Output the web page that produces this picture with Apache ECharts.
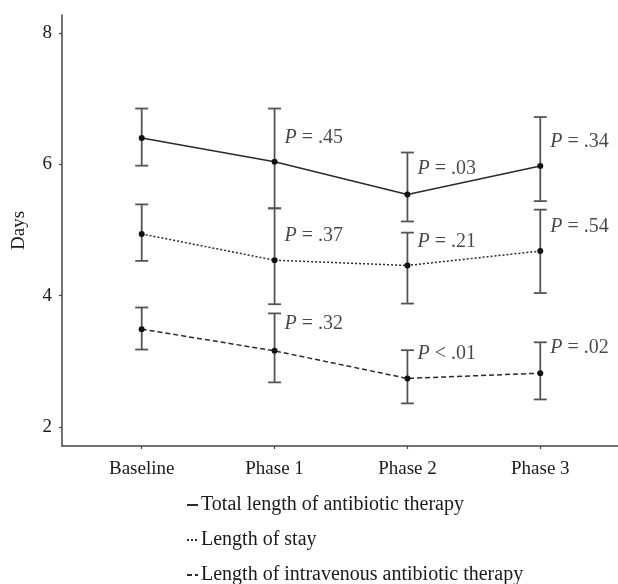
<!DOCTYPE html>
<html>
<head>
<meta charset="utf-8">
<script src="https://cdn.jsdelivr.net/npm/echarts@6/dist/echarts.min.js"></script>
<style>html,body{margin:0;padding:0;background:#fff}#c{width:618px;height:584px}</style>
</head>
<body>
<div id="c"></div>
<script>
// ---- data ----
const categories = ['Baseline', 'Phase 1', 'Phase 2', 'Phase 3'];
const yTicks = [2, 4, 6, 8];
const seriesNames = ['Total length of antibiotic therapy', 'Length of stay', 'Length of intravenous antibiotic therapy'];

const totalMean = [6.40, 6.04, 5.54, 5.975];
const totalLow  = [5.98, 5.33, 5.13, 5.44];
const totalHigh = [6.85, 6.85, 6.18, 6.72];

const stayMean = [4.94, 4.54, 4.46, 4.68];
const stayLow  = [4.53, 3.87, 3.88, 4.04];
const stayHigh = [5.39, 5.33, 4.96, 5.31];

const ivMean = [3.49, 3.16, 2.74, 2.82];
const ivLow  = [3.18, 2.68, 2.36, 2.42];
const ivHigh = [3.82, 3.73, 3.17, 3.29];

const pX    = [1, 1, 1, 2, 2, 2, 3, 3, 3];
const pY    = [6.41, 4.91, 3.58, 5.94, 4.82, 3.12, 6.34, 5.05, 3.20];
const pText = ['= .45', '= .37', '= .32', '= .03', '= .21', '< .01', '= .34', '= .54', '= .02'];

// ---- chart ----
const FONT = '"Liberation Serif", "Times New Roman", serif';
const TXT = '#1a1a1a';
const xIdx = categories.map((_, i) => i);

function errData(low, high) {
  return xIdx.map(i => [i, low[i], high[i]]);
}
function errSeries(low, high) {
  return {
    type: 'custom',
    z: 1,
    silent: true,
    data: errData(low, high),
    renderItem: function (params, api) {
      const x = api.value(0);
      const lo = api.coord([x, api.value(1)]);
      const hi = api.coord([x, api.value(2)]);
      const w = 6.5;
      const st = { stroke: '#555', lineWidth: 1.8 };
      return {
        type: 'group',
        children: [
          { type: 'line', shape: { x1: lo[0], y1: lo[1], x2: hi[0], y2: hi[1] }, style: st },
          { type: 'line', shape: { x1: lo[0] - w, y1: lo[1], x2: lo[0] + w, y2: lo[1] }, style: st },
          { type: 'line', shape: { x1: hi[0] - w, y1: hi[1], x2: hi[0] + w, y2: hi[1] }, style: st }
        ]
      };
    }
  };
}
function lineSeries(name, mean, dash) {
  return {
    name: name,
    type: 'line',
    z: 3,
    data: xIdx.map(i => [i, mean[i]]),
    symbol: 'circle',
    symbolSize: 6,
    itemStyle: { color: '#111' },
    lineStyle: { color: '#2a2a2a', width: 1.5, type: dash },
    silent: true
  };
}

const chart = echarts.init(document.getElementById('c'), null, { renderer: 'canvas' });
chart.setOption({
  animation: false,
  backgroundColor: '#fff',
  textStyle: { fontFamily: FONT },
  grid: { left: 62, right: -2, top: 15, bottom: 138, containLabel: false, outerBoundsMode: 'none' },
  xAxis: {
    type: 'value',
    min: -0.6,
    max: 3.6,
    splitLine: { show: false },
    axisLine: { show: true, onZero: false, lineStyle: { color: '#444', width: 1.5 } },
    axisTick: { show: true, customValues: xIdx, length: 3, lineStyle: { color: '#444', width: 1.2 } },
    axisLabel: {
      customValues: xIdx,
      formatter: v => categories[Math.round(v)],
      fontFamily: FONT, fontSize: 19, color: TXT, margin: 14
    }
  },
  yAxis: {
    type: 'value',
    min: 1.711,
    max: 8.274,
    name: 'Days',
    nameLocation: 'middle',
    nameRotate: 90,
    nameGap: 33,
    nameTextStyle: { fontFamily: FONT, fontSize: 19, color: TXT },
    splitLine: { show: false },
    axisLine: { show: true, onZero: false, lineStyle: { color: '#444', width: 1.5 } },
    axisTick: { show: true, customValues: yTicks, length: 3, lineStyle: { color: '#444', width: 1.2 } },
    axisLabel: {
      customValues: yTicks,
      fontFamily: FONT, fontSize: 19, color: TXT, margin: 10
    }
  },
  legend: {
    orient: 'vertical',
    left: 186,
    top: 495,
    padding: 0,
    itemWidth: 11,
    itemHeight: 8,
    itemGap: 15,
    height: 120,
    itemStyle: { opacity: 0 },
    textStyle: { fontFamily: FONT, fontSize: 20, color: TXT, lineHeight: 20, padding: [0, 0, 0, -2] },
    data: seriesNames
  },
  series: [
    errSeries(totalLow, totalHigh),
    errSeries(stayLow, stayHigh),
    errSeries(ivLow, ivHigh),
    lineSeries(seriesNames[0], totalMean, 'solid'),
    lineSeries(seriesNames[1], stayMean, [2, 2]),
    lineSeries(seriesNames[2], ivMean, [5, 3]),
    {
      type: 'scatter',
      z: 4,
      silent: true,
      symbolSize: 0,
      data: pX.map((x, i) => [x, pY[i], pText[i]]),
      label: {
        show: true,
        position: 'right',
        distance: 10,
        formatter: p => '{i|P} ' + p.value[2],
        fontFamily: FONT, fontSize: 20, color: TXT, textBorderWidth: 0,
        rich: { i: { fontStyle: 'italic', fontFamily: FONT, fontSize: 20, color: TXT } }
      }
    }
  ]
});
</script>
</body>
</html>
